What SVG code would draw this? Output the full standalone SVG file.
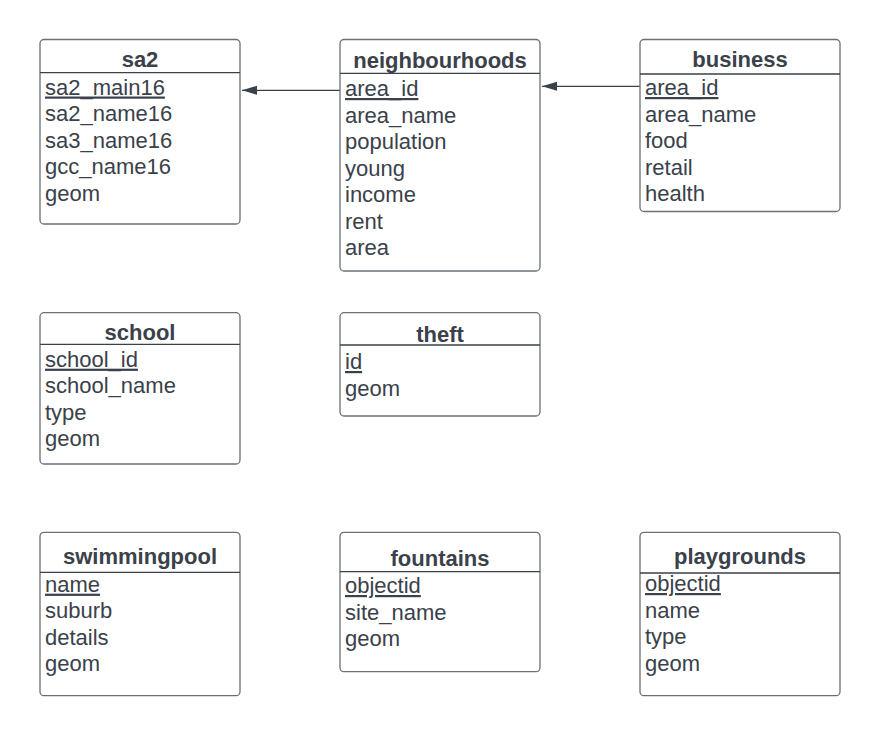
<svg xmlns="http://www.w3.org/2000/svg" width="880" height="737" viewBox="0 0 880 737">
<defs>
<style>
.box{fill:#ffffff;stroke:#6b7078;stroke-width:1.3}
.hdr{stroke:#3a414a;stroke-width:1.3}
.t{font-family:"Liberation Sans",Arial,sans-serif;font-size:22px;font-weight:bold;fill:#3a414a;text-anchor:middle}
.r{font-family:"Liberation Sans",Arial,sans-serif;font-size:22px;fill:#3a414a}
.u{text-decoration:underline}
.c{stroke:#3a414a;stroke-width:1.3;fill:none}
</style>
<marker id="ah" markerWidth="16" markerHeight="10" refX="15" refY="5" orient="auto" markerUnits="userSpaceOnUse">
<path d="M0,0.5 L15,5 L0,9.5 Z" fill="#3a414a"/>
</marker>
</defs>
<rect width="880" height="737" fill="#ffffff"/>
<g id="connectors">
<line class="c" x1="340" y1="90.3" x2="242" y2="90.3" marker-end="url(#ah)"/>
<line class="c" x1="640" y1="86.3" x2="542" y2="86.3" marker-end="url(#ah)"/>
</g>
<g id="sa2">
<rect class="box" x="40" y="39.5" width="200" height="184.5" rx="4"/>
<line class="hdr" x1="40" y1="72.7" x2="240" y2="72.7"/>
<text class="t" x="140" y="66.7">sa2</text>
<text class="r u" x="45" y="94.5">sa2_main16</text>
<text class="r" x="45" y="121">sa2_name16</text>
<text class="r" x="45" y="147.5">sa3_name16</text>
<text class="r" x="45" y="174">gcc_name16</text>
<text class="r" x="45" y="200.5">geom</text>
</g>
<g id="neighbourhoods">
<rect class="box" x="340" y="39.5" width="200" height="231.5" rx="4"/>
<line class="hdr" x1="340" y1="73.3" x2="540" y2="73.3"/>
<text class="t" x="440" y="67.7">neighbourhoods</text>
<text class="r u" x="345" y="96">area_id</text>
<text class="r" x="345" y="122.5">area_name</text>
<text class="r" x="345" y="149">population</text>
<text class="r" x="345" y="175.5">young</text>
<text class="r" x="345" y="202">income</text>
<text class="r" x="345" y="228.5">rent</text>
<text class="r" x="345" y="255">area</text>
</g>
<g id="business">
<rect class="box" x="640" y="39.5" width="200" height="172" rx="4"/>
<line class="hdr" x1="640" y1="74" x2="840" y2="74"/>
<text class="t" x="740" y="66.7">business</text>
<text class="r u" x="645" y="95">area_id</text>
<text class="r" x="645" y="121.5">area_name</text>
<text class="r" x="645" y="148">food</text>
<text class="r" x="645" y="174.5">retail</text>
<text class="r" x="645" y="201">health</text>
</g>
<g id="school">
<rect class="box" x="40" y="312.7" width="200" height="151.3" rx="4"/>
<line class="hdr" x1="40" y1="344.3" x2="240" y2="344.3"/>
<text class="t" x="140" y="340">school</text>
<text class="r u" x="45" y="366.7">school_id</text>
<text class="r" x="45" y="393">school_name</text>
<text class="r" x="45" y="419.5">type</text>
<text class="r" x="45" y="446">geom</text>
</g>
<g id="theft">
<rect class="box" x="340" y="312.7" width="200" height="103.3" rx="4"/>
<line class="hdr" x1="340" y1="345" x2="540" y2="345"/>
<text class="t" x="440" y="341.7">theft</text>
<text class="r u" x="345" y="369">id</text>
<text class="r" x="345" y="395.5">geom</text>
</g>
<g id="swimmingpool">
<rect class="box" x="40" y="532.3" width="200" height="163.4" rx="4"/>
<line class="hdr" x1="40" y1="572.3" x2="240" y2="572.3"/>
<text class="t" x="140" y="564">swimmingpool</text>
<text class="r u" x="45" y="591.7">name</text>
<text class="r" x="45" y="618.3">suburb</text>
<text class="r" x="45" y="645">details</text>
<text class="r" x="45" y="671">geom</text>
</g>
<g id="fountains">
<rect class="box" x="340" y="532.3" width="200" height="139.4" rx="4"/>
<line class="hdr" x1="340" y1="571.7" x2="540" y2="571.7"/>
<text class="t" x="440" y="566">fountains</text>
<text class="r u" x="345" y="593">objectid</text>
<text class="r" x="345" y="619.7">site_name</text>
<text class="r" x="345" y="646.3">geom</text>
</g>
<g id="playgrounds">
<rect class="box" x="640" y="532.3" width="200" height="163.4" rx="4"/>
<line class="hdr" x1="640" y1="573" x2="840" y2="573"/>
<text class="t" x="740" y="564.3">playgrounds</text>
<text class="r u" x="645" y="591">objectid</text>
<text class="r" x="645" y="617.7">name</text>
<text class="r" x="645" y="644.3">type</text>
<text class="r" x="645" y="671">geom</text>
</g>
</svg>
